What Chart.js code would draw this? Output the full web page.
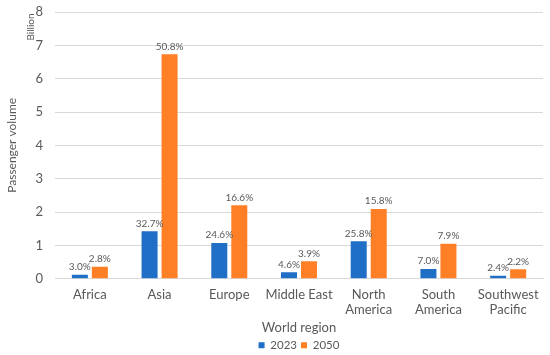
<!DOCTYPE html>
<html>
<head>
<meta charset="utf-8">
<script src="https://cdn.jsdelivr.net/npm/chart.js@4"></script>
<style>
html,body{margin:0;padding:0;background:#fff;}
#wrap{width:550px;height:355px;position:relative;}
</style>
</head>
<body>
<div id="wrap"><canvas id="c" width="550" height="355"></canvas></div>
<script>
const categories = ["Africa", "Asia", "Europe", "Middle East", ["North", "America"], ["South", "America"], ["Southwest", "Pacific"]];
const seriesNames = ["2023", "2050"];
const values2023 = [0.12, 1.42, 1.07, 0.19, 1.12, 0.29, 0.09];
const values2050 = [0.36, 6.73, 2.20, 0.52, 2.09, 1.05, 0.28];
const shares2023 = ["3.0%", "32.7%", "24.6%", "4.6%", "25.8%", "7.0%", "2.4%"];
const shares2050 = ["2.8%", "50.8%", "16.6%", "3.9%", "15.8%", "7.9%", "2.2%"];
const yTicks = [0, 1, 2, 3, 4, 5, 6, 7, 8];

const FONT = "Lato, 'Open Sans', sans-serif";
const GREY = "#595959";

const labelPlugin = {
  id: 'barLabels',
  afterLayout(chart) {
    const lg = chart.legend;
    if (lg && chart.chartArea) {
      const ca = chart.chartArea;
      const shift = (ca.left + ca.right) / 2 - (lg.left + lg.right) / 2;
      lg.left += shift;
      lg.right += shift;
    }
  },
  afterDatasetsDraw(chart) {
    const ctx = chart.ctx;
    ctx.save();
    ctx.font = "10px " + FONT;
    ctx.fillStyle = GREY;
    ctx.textAlign = "center";
    ctx.textBaseline = "bottom";
    const labelSets = [shares2023, shares2050];
    chart.data.datasets.forEach((ds, di) => {
      const meta = chart.getDatasetMeta(di);
      meta.data.forEach((bar, i) => {
        ctx.fillText(labelSets[di][i], bar.x, bar.y - 3);
      });
    });
    ctx.translate(31, 27);
    ctx.rotate(-Math.PI / 2);
    ctx.font = "10px " + FONT;
    ctx.textAlign = "center";
    ctx.textBaseline = "middle";
    ctx.fillText("Billion", 0, 0);
    ctx.restore();
  }
};

new Chart(document.getElementById('c'), {
  type: 'bar',
  data: {
    labels: categories,
    datasets: [
      { label: seriesNames[0], data: values2023, backgroundColor: "#1F6FC6" },
      { label: seriesNames[1], data: values2050, backgroundColor: "#FF7F27" }
    ]
  },
  options: {
    responsive: false,
    animation: false,
    layout: { padding: { top: 12, right: 7, left: 5, bottom: -6 } },
    datasets: { bar: { categoryPercentage: 0.574, barPercentage: 0.8 } },
    scales: {
      x: {
        grid: { display: false, drawTicks: false },
        border: { display: true, color: "#D9D9D9" },
        ticks: { color: GREY, font: { family: FONT, size: 13 }, padding: 8, maxRotation: 0, autoSkip: false },
        title: { display: true, text: "World region", color: GREY, font: { family: FONT, size: 13 }, padding: { top: -6, bottom: 0 } }
      },
      y: {
        min: 0, max: 8,
        afterBuildTicks(scale) { scale.ticks = yTicks.map(v => ({ value: v })); },
        afterFit(scale) { scale.width = 50; scale.paddingTop = 0; scale.paddingBottom = 0; },
        grid: { color: "#D9D9D9", drawTicks: false },
        border: { display: false },
        ticks: { color: GREY, font: { family: FONT, size: 13 }, padding: 12 },
        title: { display: true, text: "Passenger volume", color: GREY, font: { family: FONT, size: 12 }, padding: 0 }
      }
    },
    plugins: {
      legend: {
        position: 'bottom',
        labels: { boxWidth: 6, boxHeight: 6, color: GREY, font: { family: FONT, size: 11.5 }, padding: 4 }
      },
      tooltip: { enabled: false }
    }
  },
  plugins: [labelPlugin]
});
</script>
</body>
</html>
